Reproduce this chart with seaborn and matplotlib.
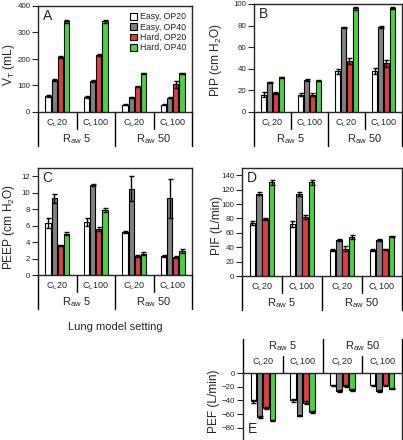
import pandas as pd
import seaborn as sns
import numpy as np
import matplotlib.pyplot as plt

# Bar series (one inner list per lung-model group, in the order of "settings")
settings = ["Easy, OP20", "Easy, OP40", "Hard, OP20", "Hard, OP40"]
colors = ["#ffffff", "#808080", "#ff2020", "#33ee22"]
groups = ["R5 CL20", "R5 CL100", "R50 CL20", "R50 CL100"]
cl_labels = [r"C$_\mathregular{L}$20", r"C$_\mathregular{L}$100", r"C$_\mathregular{L}$20", r"C$_\mathregular{L}$100"]
raw_labels = [r"R$_\mathregular{aw}$ 5", r"R$_\mathregular{aw}$ 50"]

vt_vals = [[60, 120, 207, 342], [57, 117, 215, 342], [27, 55, 96, 146], [28, 53, 104, 146]]
vt_errs = [[3, 3, 4, 6], [3, 3, 3, 6], [2, 2, 3, 3], [2, 2, 12, 3]]

pip_vals = [[16, 27.5, 17.5, 32], [16, 29.5, 16, 29], [37.5, 78.5, 47, 96], [38, 78.5, 45, 96]]
pip_errs = [[2.5, 0.5, 1, 0.5], [1.5, 0.8, 1.5, 0.3], [2.5, 0.5, 3, 1.5], [2.5, 1, 3, 1]]

peep_vals = [[6.3, 9.3, 3.6, 5.0], [6.4, 10.9, 5.6, 7.9], [5.2, 10.5, 2.3, 2.6], [2.3, 9.3, 2.2, 2.9]]
peep_errs = [[0.6, 0.5, 0.1, 0.2], [0.5, 0.1, 0.25, 0.3], [0.1, 1.5, 0.1, 0.2], [0.1, 2.4, 0.1, 0.25]]

pif_vals = [[74, 114, 79, 130], [72, 114, 82, 130], [36, 50, 38, 54], [36, 50, 37, 55]]
pif_errs = [[3, 2, 1, 4], [4, 3, 3, 4], [1, 1, 3, 3], [1, 1, 1, 1]]

pef_vals = [[-41, -64, -51, -69], [-40, -62, -43, -57], [-18, -26, -19, -25], [-18, -26, -18, -23]]
pef_errs = [[2, 1, 1, 1], [2, 1, 2, 1], [1, 1, 1, 1], [1, 1, 1, 1]]

sns.set_style("ticks")
plt.rcParams["font.family"] = ["Liberation Sans", "DejaVu Sans"]
plt.rcParams["mathtext.fontset"] = "custom"
plt.rcParams["mathtext.rm"] = "Liberation Sans"
plt.rcParams["mathtext.it"] = "Liberation Sans:italic"
plt.rcParams["axes.linewidth"] = 1.0

W, H = 403, 440
fig = plt.figure(figsize=(W / 100, H / 100), dpi=100)


def make_df(vals, errs):
    rows = []
    for g, gv, ge in zip(groups, vals, errs):
        for s, v, e in zip(settings, gv, ge):
            rows.append(dict(group=g, setting=s, value=v, err=e))
    return pd.DataFrame(rows)


def panel(rect, vals, errs, ylim, yticks, ylabel, letter, lab_xy, legend=False, top=False):
    ax = fig.add_axes(rect)
    df = make_df(vals, errs)
    sns.barplot(data=df, x="group", y="value", hue="setting", order=groups,
                hue_order=settings, palette=colors, edgecolor="black",
                linewidth=0.8, width=0.64, gap=0.15, errorbar=None,
                legend=legend, ax=ax)
    bar_sets = list(ax.containers)[:len(settings)]
    for i, cont in enumerate(bar_sets):
        for j, bar in enumerate(cont):
            x = bar.get_x() + bar.get_width() / 2
            y = bar.get_y() + bar.get_height()
            ax.errorbar(x, y, yerr=errs[j][i], fmt="none", ecolor="black",
                        elinewidth=1, capsize=1.8, capthick=1)
    ax.set_xlim(-0.5, 3.5)
    ax.set_ylim(*ylim)
    ax.set_yticks(yticks)
    ax.tick_params(axis="y", direction="out", length=4, width=0.8, labelsize=5.7, pad=1.5)
    ax.tick_params(axis="x", bottom=False, labelbottom=False)
    ax.set_xlabel("")
    ax.set_ylabel(ylabel, fontsize=8.6)
    ax.yaxis.set_label_coords(*lab_xy)
    for sp in ax.spines.values():
        sp.set_visible(True)
        sp.set_linewidth(1.0)
    if top:
        ax.spines["bottom"].set_visible(False)
        ax.text(0.03, 0.06, letter, transform=ax.transAxes, fontsize=10, va="bottom")
    else:
        ax.text(0.03, 0.97, letter, transform=ax.transAxes, fontsize=10, va="top")

    # category table under (or over) the axes
    ax_h = rect[3] * H
    sgn = 1 if top else -1
    y0 = 1 if top else 0
    cl_y = y0 + sgn * 11 / ax_h
    raw_y = y0 + sgn * 27 / ax_h
    for xf in [0, 0.5, 1]:
        ax.plot([xf, xf], [y0, y0 + sgn * 34 / ax_h], color="black", lw=1,
                transform=ax.transAxes, clip_on=False)
    for xf in [0.25, 0.75]:
        ax.plot([xf, xf], [y0, y0 + sgn * 17 / ax_h], color="black", lw=1,
                transform=ax.transAxes, clip_on=False)
    for j, lab in enumerate(cl_labels):
        ax.text((j + 0.5) / 4, cl_y, lab, transform=ax.transAxes, fontsize=6.5,
                ha="center", va="center")
    for j, lab in enumerate(raw_labels):
        ax.text(0.25 + 0.5 * j, raw_y, lab, transform=ax.transAxes, fontsize=8,
                ha="center", va="center")
    if legend:
        ax.legend(loc="upper right", bbox_to_anchor=(1.0, 0.99), frameon=False,
                  fontsize=6.3, handlelength=0.8, handleheight=0.8,
                  labelspacing=0.15, handletextpad=0.4, borderaxespad=0.2)
        for h in ax.get_legend().legend_handles:
            h.set_edgecolor("black")
    return ax


def rect(l, t, r, b):
    return [l / W, 1 - b / H, (r - l) / W, (b - t) / H]


panel(rect(38, 6, 192, 112), vt_vals, vt_errs, (0, 400), range(0, 401, 100),
      r"V$_\mathregular{T}$ (mL)", "A", (-0.135, 0.45), legend=True)
panel(rect(254, 4, 402, 112), pip_vals, pip_errs, (0, 100), range(0, 101, 20),
      r"PIP (cm H$_\mathregular{2}$O)", "B", (-0.2, 0.48))
panel(rect(38, 168, 192, 275), peep_vals, peep_errs, (0, 13), range(0, 13, 2),
      r"PEEP (cm H$_\mathregular{2}$O)", "C", (-0.135, 0.45))
panel(rect(242, 168, 402, 276), pif_vals, pif_errs, (0, 150), range(0, 141, 20),
      "PIF (L/min)", "D", (-0.12, 0.47))
panel(rect(243, 373, 402, 440), pef_vals, pef_errs, (-97.5, 0), range(-80, 1, 20),
      "PEF (L/min)", "E", (-0.145, 0.58), top=True)

fig.text(115 / W, 1 - 327 / H, "Lung model setting", fontsize=8, ha="center", va="center")

fig.savefig("out.png", dpi=100)
